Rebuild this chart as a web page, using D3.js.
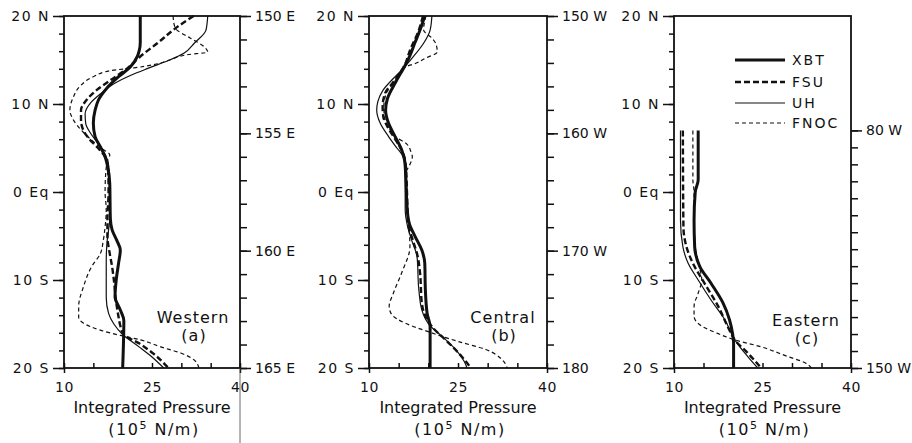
<!DOCTYPE html>
<html>
<head>
<meta charset="utf-8">
<script src="https://cdn.jsdelivr.net/npm/d3@7/dist/d3.min.js"></script>
<style>
  body { margin: 0; background: #fff; }
  svg text { font-family: "DejaVu Sans", sans-serif; fill: #111; }
</style>
</head>
<body>
<svg id="chart" width="912" height="443"></svg>
<script>
// profiles are [latitude, integrated pressure (10^5 N/m)]
const xbtA = [[20,23.0],[17,23.0],[16,22.8],[15.4,22.5],[14.2,21.3],[13.1,19.3],[11.8,17.3],[10.5,15.9],[9.3,15.3],[7.8,15.0],[6.3,15.3],[5,16.3],[4,17.0],[3,17.4],[1,17.8],[-3,17.9],[-4.3,18.2],[-5.5,19.0],[-6.6,19.6],[-8.1,19.3],[-10,18.9],[-11.9,18.7],[-13.4,19.6],[-14.6,20.2],[-20,20.0]];
const fsuA = [[20,32.1],[18.6,29.0],[16.9,25.9],[15.4,23.0],[13.9,20.5],[12.7,17.9],[11.6,15.6],[10.5,13.9],[9.3,12.9],[8.2,12.9],[7.0,13.3],[6.1,14.2],[5,15.8],[4,17.0],[3,17.5],[0,17.6],[-3,17.4],[-5,17.4],[-7,17.8],[-8.5,18.2],[-10,18.5],[-12,18.8],[-13,19.0],[-14.2,19.3],[-15.2,19.6],[-16.2,20.2],[-17.2,22.8],[-18.4,25.3],[-20,27.8]];
const uhA = [[20,34.5],[18.4,34.2],[16.9,32.2],[15.8,30.5],[15.0,28.0],[14.1,24.5],[13.3,21.5],[12.3,18.5],[11.2,16.3],[10.1,14.5],[8.9,13.6],[7.8,13.7],[6.7,14.5],[5.2,16.2],[4,17.2],[3,17.6],[1,17.8],[-3,17.8],[-4.3,17.6],[-6,17.3],[-8,17.2],[-12,17.2],[-13.8,17.6],[-15,18.5],[-16.2,20.0],[-17.6,22.8],[-18.7,24.9],[-20,27.0]];
const fnocA = [[20,28.6],[19.3,28.7],[18.6,29.0],[17.5,31.5],[16.5,33.9],[15.9,34.5],[15.6,31.0],[15.0,28.0],[14.5,25.5],[14.1,21.9],[13.8,18.0],[13.1,15.0],[12,12.7],[10.8,11.6],[9.3,11.0],[8.2,11.6],[7,13.0],[6.2,14.2],[5,16.3],[4.2,17.8],[3.5,17.4],[2,17.1],[0,17.0],[-2,17.2],[-4,17.0],[-5.5,16.7],[-7,16.2],[-8.5,14.7],[-10.8,13.3],[-13,12.5],[-14.2,12.5],[-14.9,13.3],[-15.7,16.2],[-16.3,19.6],[-16.8,23.0],[-17.6,26.5],[-18.3,29.9],[-19.1,32.2],[-20,33.0]];

const xbtB = [[20,19.4],[18.4,18.6],[16.9,17.7],[15.5,16.9],[14.4,16.1],[12.5,14.5],[10.6,13.1],[9.3,12.8],[7.8,13.3],[6.3,14.4],[4.8,15.5],[3.6,16.0],[1.7,16.2],[0,16.3],[-1.7,16.4],[-3.6,16.8],[-5.1,17.8],[-6.6,18.9],[-8.1,19.4],[-11.1,19.5],[-13.8,19.8],[-15.3,20.3],[-20,20.3]];
const fsuB = [[20,19.1],[18.4,18.4],[16.1,16.9],[14.4,16.0],[12.5,14.1],[11.2,12.7],[9.7,12.3],[8.6,12.4],[7.2,13.3],[5.7,14.7],[4.3,15.8],[3,16.2],[0,16.4],[-3.6,16.6],[-5.5,17.4],[-7.3,18.2],[-9.2,18.6],[-12.6,18.9],[-15.3,20.6],[-16.8,22.9],[-18.3,25.1],[-20,27.2]];
const uhB = [[20,20.6],[18.4,20.3],[16.9,19.2],[15.4,17.5],[14.2,16.0],[12.9,14.1],[11.6,12.4],[10.3,11.5],[9.3,11.3],[7.8,11.9],[6.3,13.3],[5.0,14.7],[4.2,15.6],[3.3,16.0],[1,16.1],[-2,16.1],[-3.6,16.4],[-5.5,17.2],[-7.35,18.1],[-11.1,18.4],[-13.4,18.9],[-15.2,20.3],[-16.4,22.3],[-17.9,24.6],[-19.6,26.3],[-20,26.5]];
const fnocB = [[20,19.6],[18.4,19.2],[17.5,20.6],[16.8,21.3],[15.9,21.5],[15.2,19.5],[14.6,17.8],[14.2,16.1],[12.5,14.3],[11.2,12.9],[9.7,12.5],[8.6,12.6],[7.2,13.4],[6.2,14.6],[5.5,16.3],[4.5,17.1],[4.0,17.3],[3,16.8],[2.3,16.3],[0,16.4],[-3.6,16.7],[-6.2,16.9],[-9.2,15.5],[-11.5,14.1],[-13.0,13.4],[-13.9,13.8],[-14.9,16.1],[-15.9,20.1],[-17.0,25.1],[-17.9,29.7],[-19.1,32.5],[-20,33.3]];

const xbtC = [[7,14.1],[1.4,14.1],[0,13.6],[-3.2,13.4],[-6.2,13.5],[-8.5,14.4],[-10.4,16.3],[-12.6,18.3],[-14.5,19.4],[-16,19.9],[-17.2,20.1],[-20,20.1]];
const fsuC = [[7,11.5],[-4,11.6],[-6.2,12.1],[-8.1,13.2],[-10.4,15.2],[-13,17.5],[-15.7,19.4],[-16.8,20.3],[-18.3,22.5],[-20,24.8]];
const uhC = [[7,11.1],[-3.2,11.1],[-6.2,11.5],[-8.1,12.4],[-10,14.1],[-12.3,16.3],[-14.5,18.6],[-16.8,20.3],[-18.7,22.5],[-20,24.2]];
const fnocC = [[7,13.2],[1.4,13.2],[0,13.4],[-3.2,13.4],[-6.2,13.6],[-8.5,14.3],[-10,14.7],[-11.5,14.1],[-13.0,13.4],[-14.1,13.4],[-15.2,14.6],[-16.1,17.5],[-16.8,20.3],[-17.6,24.8],[-18.7,29.3],[-19.4,32.2],[-20,33.3]];

const seriesNames = ["XBT", "FSU", "UH", "FNOC"];
const latTicks = [20, 10, 0, -10, -20];
const latLabels = ["20 N", "10 N", "0 Eq", "10 S", "20 S"];
const pressureTicks = [10, 25, 40];

const svg = d3.select("#chart");
const yLat = d3.scaleLinear().domain([20, -20]).range([16, 368]);

const styles = {
  XBT:  { w: 3,   dash: null },
  FSU:  { w: 2.4, dash: "6,3" },
  UH:   { w: 1.2, dash: null },
  FNOC: { w: 1.2, dash: "4,3" }
};

const panels = [
  { x0: 64,  x1: 240, data: [xbtA, fsuA, uhA, fnocA], name: "Western", tag: "(a)",
    nameX: 193, lon: [150, 165], lonTop: 20, lonStep: 1, lonMajor: [150, 155, 160, 165],
    lonFmt: d => d + " E", textY: 323 },
  { x0: 369, x1: 547, data: [xbtB, fsuB, uhB, fnocB], name: "Central", tag: "(b)",
    nameX: 503, lon: [150, 180], lonTop: 20, lonStep: 2, lonMajor: [150, 160, 170, 180],
    lonFmt: d => d === 180 ? "180" : d + " W", textY: 323 },
  { x0: 674, x1: 851, data: [xbtC, fsuC, uhC, fnocC], name: "Eastern", tag: "(c)",
    nameX: 806, lon: [80, 150], lonTop: 7, lonStep: 5, lonMajor: [80, 150],
    lonFmt: d => d + " W", textY: 326 }
];

function styleAxis(g) {
  g.style("color", "#111");
  g.selectAll(".domain").remove();
  g.selectAll("line").attr("stroke-width", 1.5);
  g.selectAll("text").style("font-size", "14px").style("letter-spacing", "1.5px");
}

panels.forEach(p => {
  const x = d3.scaleLinear().domain([10, 40]).range([p.x0, p.x1]);
  const g = svg.append("g");

  // lon axis on the right
  const yLon = d3.scaleLinear().domain(p.lon).range([yLat(p.lonTop), yLat(-20)]);
  g.append("g").attr("transform", `translate(${p.x1},0)`)
    .call(d3.axisRight(yLon).tickValues(d3.range(p.lon[0], p.lon[1] + 1, p.lonStep)).tickSize(7).tickFormat(""))
    .call(styleAxis);
  g.append("g").attr("transform", `translate(${p.x1},0)`)
    .call(d3.axisRight(yLon).tickValues(p.lonMajor).tickSize(11).tickPadding(4).tickFormat(p.lonFmt))
    .call(styleAxis)
    .selectAll("text").style("letter-spacing", "0px");

  // lat axis on the left
  g.append("g").attr("transform", `translate(${p.x0},0)`)
    .call(d3.axisLeft(yLat).tickValues(d3.range(-20, 21, 2)).tickSize(5).tickFormat(""))
    .call(styleAxis);
  g.append("g").attr("transform", `translate(${p.x0},0)`)
    .call(d3.axisLeft(yLat).tickValues(latTicks).tickSize(11).tickPadding(3)
      .tickFormat((d, i) => latLabels[i]))
    .call(styleAxis);

  // pressure axis
  g.append("g").attr("transform", `translate(0,${yLat(-20)})`)
    .call(d3.axisBottom(x).tickValues(d3.range(10, 41, 5)).tickSize(-5).tickFormat(""))
    .call(styleAxis);
  g.append("g").attr("transform", `translate(0,${yLat(-20)})`)
    .call(d3.axisBottom(x).tickValues([10, 40]).tickSize(5).tickFormat(""))
    .call(styleAxis);
  g.append("g").attr("transform", `translate(0,${yLat(-20)})`)
    .call(d3.axisBottom(x).tickValues(pressureTicks).tickSize(0).tickPadding(14).tickFormat(d3.format("d")))
    .call(styleAxis)
    .selectAll("text").style("letter-spacing", "0.5px");

  g.append("rect")
    .attr("x", p.x0).attr("y", yLat(20))
    .attr("width", p.x1 - p.x0).attr("height", yLat(-20) - yLat(20))
    .attr("fill", "none").attr("stroke", "#111").attr("stroke-width", 1.8);

  const line = d3.line()
    .x(d => x(d[1]))
    .y(d => yLat(d[0]))
    .curve(d3.curveMonotoneY);

  p.data.forEach((s, i) => {
    const st = styles[seriesNames[i]];
    g.append("path")
      .attr("d", line(s))
      .attr("fill", "none")
      .attr("stroke", "#111")
      .attr("stroke-width", st.w)
      .attr("stroke-dasharray", st.dash)
      .attr("stroke-linejoin", "round");
  });

  g.append("text").attr("x", p.nameX).attr("y", p.textY)
    .attr("text-anchor", "middle").style("font-size", "16px").style("letter-spacing", "1px")
    .text(p.name);
  g.append("text").attr("x", p.nameX + 1).attr("y", p.textY + 18)
    .attr("text-anchor", "middle").style("font-size", "16px").style("letter-spacing", "1px")
    .text(p.tag);

  const cx = (p.x0 + p.x1) / 2;
  g.append("text").attr("x", cx).attr("y", 413)
    .attr("text-anchor", "middle").style("font-size", "16px")
    .text("Integrated Pressure");
  const unit = g.append("text").attr("x", cx + 2).attr("y", 435)
    .attr("text-anchor", "middle").style("font-size", "16px").style("letter-spacing", "1.5px");
  unit.append("tspan").text("(10");
  unit.append("tspan").attr("dy", -6).style("font-size", "11px").text("5");
  unit.append("tspan").attr("dy", 6).text(" N/m)");
});

// scan line left under the first panel
svg.append("line")
  .attr("x1", 240).attr("x2", 240).attr("y1", yLat(-20)).attr("y2", 443)
  .attr("stroke", "#444").attr("stroke-width", 0.8);

// legend inside panel c
const legend = svg.append("g").attr("transform", "translate(735,60)");
seriesNames.forEach((n, i) => {
  const st = styles[n];
  const yy = [0, 22, 43, 63][i];
  legend.append("line")
    .attr("x1", 0).attr("x2", 50).attr("y1", yy).attr("y2", yy)
    .attr("stroke", "#111").attr("stroke-width", st.w)
    .attr("stroke-dasharray", st.dash);
  legend.append("text").attr("x", 57).attr("y", yy + 5)
    .style("font-size", "14px").style("letter-spacing", "2px")
    .text(n);
});
</script>
</body>
</html>
